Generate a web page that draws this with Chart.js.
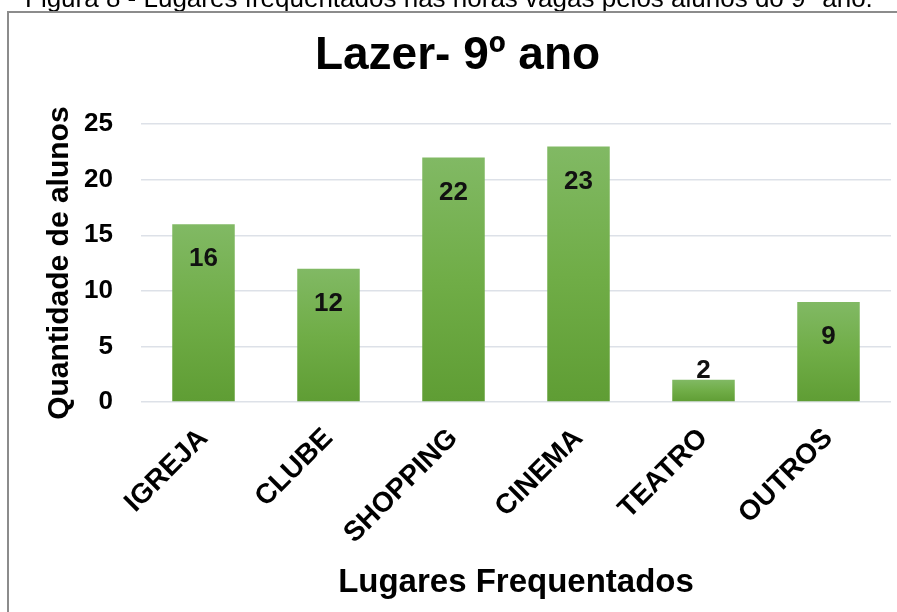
<!DOCTYPE html>
<html>
<head>
    <title>Lazer- 9º ano</title>
    <style>
        body {
            margin: 0;
            background: white;
        }
        #wrap {
            position: relative;
            width: 897px;
            height: 612px;
            overflow: hidden;
        }
    </style>
    <script src="https://cdn.jsdelivr.net/npm/chart.js"></script>
</head>
<body>

    <div id="wrap">
        <canvas id="lazerChart" width="897" height="612"></canvas>
    </div>

    <script>
        const categories = ['IGREJA', 'CLUBE', 'SHOPPING', 'CINEMA', 'TEATRO', 'OUTROS'];
        const alunos = [16, 12, 22, 23, 2, 9];
        const yTicks = [0, 5, 10, 15, 20, 25];

        const caption = 'Figura 8 - Lugares frequentados nas horas vagas pelos alunos do 9º ano.';
        const fontFamily = '"Liberation Sans", Arial, sans-serif';

        // caption cut off at the top and the grey frame round the chart
        const framePlugin = {
            id: 'frame',
            beforeDraw(chart) {
                const ctx = chart.ctx;
                ctx.save();
                ctx.fillStyle = '#000';
                ctx.font = '26px ' + fontFamily;
                ctx.textBaseline = 'alphabetic';
                ctx.textAlign = 'left';
                ctx.fillText(caption, 25, 7);
                ctx.strokeStyle = '#8c8c8c';
                ctx.lineWidth = 2;
                ctx.beginPath();
                ctx.moveTo(8, 612);
                ctx.lineTo(8, 12);
                ctx.lineTo(897, 12);
                ctx.stroke();
                ctx.restore();
            }
        };

        // value labels just inside the top of each bar
        const valueLabels = {
            id: 'valueLabels',
            afterDatasetsDraw(chart) {
                const ctx = chart.ctx;
                const meta = chart.getDatasetMeta(0);
                ctx.save();
                ctx.fillStyle = '#111';
                ctx.font = 'bold 26px ' + fontFamily;
                ctx.textAlign = 'center';
                ctx.textBaseline = 'middle';
                meta.data.forEach((bar, i) => {
                    const h = bar.base - bar.y;
                    const y = h < 40 ? bar.base - 30 : bar.y + 35;
                    ctx.fillText(String(alunos[i]), bar.x, y);
                });
                ctx.restore();
            }
        };

        function barGradient(context) {
            const chart = context.chart;
            if (!chart.chartArea) return '#70ad47';
            const y = chart.scales.y;
            const top = y.getPixelForValue(context.raw);
            const bottom = y.getPixelForValue(0);
            const g = chart.ctx.createLinearGradient(0, top, 0, bottom);
            g.addColorStop(0, '#81b964');
            g.addColorStop(0.5, '#70ad47');
            g.addColorStop(1, '#5f9d34');
            return g;
        }

        const chart = new Chart(document.getElementById('lazerChart'), {
            type: 'bar',
            data: {
                labels: categories,
                datasets: [{
                    label: 'Quantidade de alunos',
                    data: alunos,
                    backgroundColor: barGradient,
                    borderWidth: 0,
                    categoryPercentage: 1,
                    barPercentage: 0.5
                }]
            },
            options: {
                responsive: false,
                animation: false,
                layout: {
                    padding: { left: 24, right: 6, top: 0, bottom: 0 }
                },
                plugins: {
                    legend: { display: false },
                    tooltip: { enabled: false },
                    title: {
                        display: true,
                        text: 'Lazer- 9º ano',
                        color: '#000',
                        font: { family: fontFamily, size: 46, weight: 'bold' },
                        padding: { top: 29, bottom: 40 }
                    }
                },
                scales: {
                    x: {
                        afterFit(scale) { scale.height = 210; },
                        grid: { display: false },
                        border: { display: false },
                        ticks: {
                            color: '#000',
                            font: { family: fontFamily, size: 28, weight: 'bold' },
                            minRotation: 45,
                            maxRotation: 45,
                            padding: 12
                        },
                        title: {
                            display: true,
                            text: 'Lugares Frequentados',
                            color: '#000',
                            font: { family: fontFamily, size: 33, weight: 'bold' },
                            padding: { top: 0, bottom: 9 }
                        }
                    },
                    y: {
                        min: 0,
                        max: 25,
                        afterFit(scale) { scale.width = 117; },
                        afterBuildTicks(scale) {
                            scale.ticks = yTicks.map(v => ({ value: v }));
                        },
                        grid: {
                            color: '#dde1e8',
                            lineWidth: 1.5,
                            drawTicks: false
                        },
                        border: { display: false },
                        ticks: {
                            color: '#000',
                            font: { family: fontFamily, size: 26, weight: 'bold' },
                            padding: 28
                        },
                        title: {
                            display: true,
                            text: 'Quantidade de alunos',
                            color: '#000',
                            font: { family: fontFamily, size: 30, weight: 'bold' },
                            padding: { top: 18, bottom: 0 }
                        }
                    }
                }
            },
            plugins: [framePlugin, valueLabels]
        });
    </script>

</body>
</html>
